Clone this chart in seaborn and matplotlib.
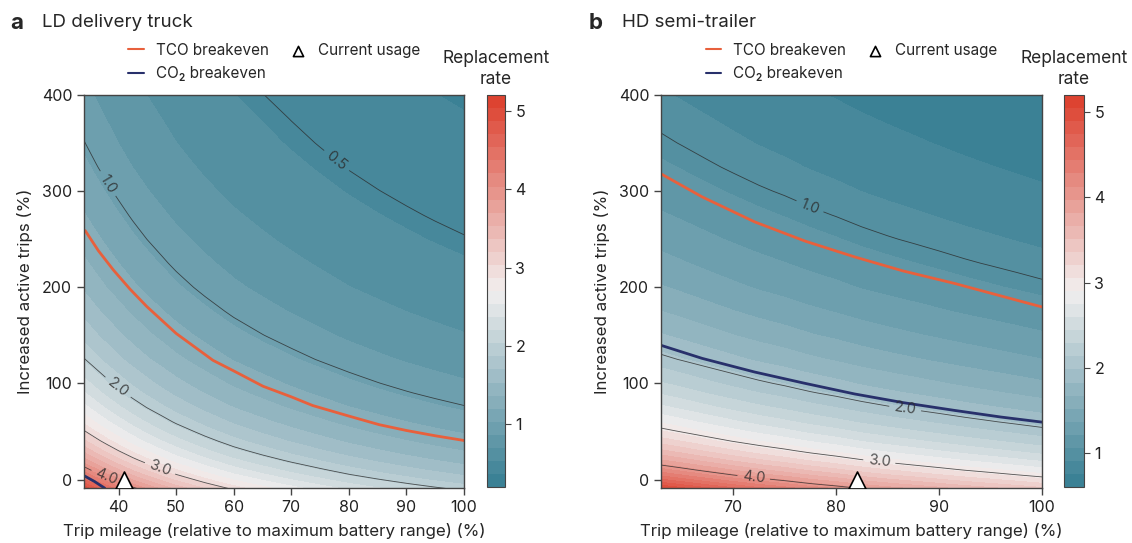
import numpy as np
import pandas as pd
import matplotlib.pyplot as plt
import seaborn as sns

# ---------------------------------------------------------------
# Data
# increased active trips (%) and the scaling of the replacement rate with it
trips = [-10, -5, 0, 5, 10, 15, 20, 25, 30, 40, 50, 60, 75, 90, 100, 125, 150,
         175, 200, 225, 250, 275, 300, 325, 350, 375, 400]
trip_factor = [1.111, 1.053, 1.000, 0.952, 0.909, 0.870, 0.833, 0.800, 0.769,
               0.714, 0.667, 0.625, 0.571, 0.526, 0.500, 0.444, 0.400, 0.364,
               0.333, 0.308, 0.286, 0.267, 0.250, 0.235, 0.222, 0.211, 0.200]

# LD delivery truck: replacement rate at current trips, by trip mileage
ld_mileage = [34, 36, 38, 40, 42.5, 45, 47.5, 50, 55, 60, 65, 70, 75, 80, 85, 90, 95, 100]
ld_rate_base = [4.53, 4.30, 4.09, 3.90, 3.68, 3.49, 3.32, 3.16, 2.90, 2.68, 2.51,
                2.36, 2.23, 2.11, 2.01, 1.92, 1.84, 1.77]

# HD semi-trailer
hd_mileage = [63, 65, 67.5, 70, 72.5, 75, 77.5, 80, 82.5, 85, 87.5, 90, 92.5, 95, 97.5, 100]
hd_rate_base = [4.60, 4.48, 4.33, 4.19, 4.06, 3.95, 3.83, 3.73, 3.62, 3.53, 3.45,
                3.37, 3.29, 3.22, 3.15, 3.08]

# breakeven curves
ld_tco_x = [34.2, 36.5, 39.1, 42, 44.9, 50, 56.4, 60, 65.1, 70, 73.7, 80, 85.3, 90, 95, 100]
ld_tco_y = [259, 238, 218, 198, 180, 152, 124, 113, 97, 86, 77, 66, 57, 51, 45.5, 40.6]
ld_co2_x = [34, 35.8, 37.6]
ld_co2_y = [4, -2, -9]

hd_tco_x = [63, 67, 72.1, 77, 81.8, 86.5, 91.5, 96, 100]
hd_tco_y = [318, 294, 268, 248, 231.6, 217, 204, 191, 179.5]
hd_co2_x = [63, 67, 72.1, 77, 81.8, 86.5, 91.5, 96, 100]
hd_co2_y = [139.6, 126, 111.8, 100, 89, 80, 71.9, 65, 59.7]

# current usage
ld_current = (41, 0)
hd_current = (82, 0)

# ---------------------------------------------------------------
sns.set_style("ticks")
plt.rcParams['font.family'] = ['Inter', 'DejaVu Sans']
plt.rcParams['axes.edgecolor'] = '#444444'
plt.rcParams['xtick.color'] = '#444444'
plt.rcParams['ytick.color'] = '#444444'
plt.rcParams['xtick.labelcolor'] = '#222222'
plt.rcParams['ytick.labelcolor'] = '#222222'

cmap = sns.blend_palette(["#357d92", "#f2efef", "#dc3d2b"], as_cmap=True)
tco_color = '#e8603c'
co2_color = '#28306b'

fig = plt.figure(figsize=(11.32, 5.43), dpi=100)

panels = [
    dict(letter='a', title='LD delivery truck', mileage=ld_mileage, base=ld_rate_base,
         tco=(ld_tco_x, ld_tco_y), co2=(ld_co2_x, ld_co2_y), cur=ld_current,
         levels=np.linspace(0.2, 5.2, 31), lines=[0.5, 1.0, 2.0, 3.0, 4.0],
         labels=[(77.5, 329), (38.2, 308), (39.9, 96), (47.2, 11.5), (38, 4)],
         ax_rect=[84 / 1132, 0.101, 380 / 1132, 0.724],
         cb_rect=[487 / 1132, 0.103, 18 / 1132, 0.722],
         xlim=(34, 100), xticks=[40, 50, 60, 70, 80, 90, 100],
         tx=10 / 1132, ttx=42 / 1132),
    dict(letter='b', title='HD semi-trailer', mileage=hd_mileage, base=hd_rate_base,
         tco=(hd_tco_x, hd_tco_y), co2=(hd_co2_x, hd_co2_y), cur=hd_current,
         levels=np.linspace(0.6, 5.2, 31), lines=[1.0, 2.0, 3.0, 4.0],
         labels=[(77.5, 285), (86.7, 73), (84.2, 18.7), (72, 2)],
         ax_rect=[661 / 1132, 0.101, 381 / 1132, 0.724],
         cb_rect=[1064 / 1132, 0.103, 20 / 1132, 0.722],
         xlim=(63, 100), xticks=[70, 80, 90, 100],
         tx=589 / 1132, ttx=622 / 1132),
]

for p in panels:
    ax = fig.add_axes(p['ax_rect'])
    rate = np.outer(trip_factor, p['base'])

    cf = ax.contourf(p['mileage'], trips, rate, levels=p['levels'], cmap=cmap)
    cs = ax.contour(p['mileage'], trips, rate, levels=p['lines'],
                    colors='#2b2b2b', linewidths=0.6, alpha=0.8)
    ax.clabel(cs, fmt='%.1f', fontsize=10.5, inline=True, manual=p['labels'])

    tco = pd.DataFrame({'x': p['tco'][0], 'y': p['tco'][1]})
    co2 = pd.DataFrame({'x': p['co2'][0], 'y': p['co2'][1]})
    sns.lineplot(data=tco, x='x', y='y', sort=False, color=tco_color, lw=2,
                 label='TCO breakeven', ax=ax)
    sns.lineplot(data=co2, x='x', y='y', sort=False, color=co2_color, lw=2,
                 label='CO₂ breakeven', ax=ax)
    sns.scatterplot(x=[p['cur'][0]], y=[p['cur'][1]], marker='^', s=150,
                    color='white', edgecolor='black', linewidth=1.2, zorder=6,
                    label='Current usage', ax=ax)

    ax.set_xlim(*p['xlim'])
    ax.set_ylim(-9, 400)
    ax.set_xticks(p['xticks'])
    ax.set_yticks([0, 100, 200, 300, 400])
    ax.tick_params(labelsize=11.5, length=5, width=1)
    for s in ax.spines.values():
        s.set_linewidth(1)
    ax.set_xlabel('Trip mileage (relative to maximum battery range) (%)', fontsize=12.2,
                  labelpad=6)
    ax.set_ylabel('Increased active trips (%)', fontsize=12.2, labelpad=6)

    leg = ax.legend(ncol=2, loc='lower center', bbox_to_anchor=(0.5, 1.012), frameon=False,
                    fontsize=11, handlelength=1.0, handletextpad=0.8, columnspacing=1.4,
                    labelspacing=0.55, borderaxespad=0.2, markerscale=0.6)
    for h in leg.get_lines():
        h.set_linewidth(1.5)

    cax = fig.add_axes(p['cb_rect'])
    cb = fig.colorbar(cf, cax=cax, ticks=[1, 2, 3, 4, 5])
    cb.outline.set_linewidth(0.8)
    cax.tick_params(labelsize=11.5, length=4)
    cax.set_title('Replacement\nrate', fontsize=12.5, pad=8, linespacing=1.3)

    fig.text(p['tx'], 0.958, p['letter'], fontsize=16, weight='bold', va='center')
    fig.text(p['ttx'], 0.958, p['title'], fontsize=13.5, va='center')

fig.savefig('out.png', dpi=100)
